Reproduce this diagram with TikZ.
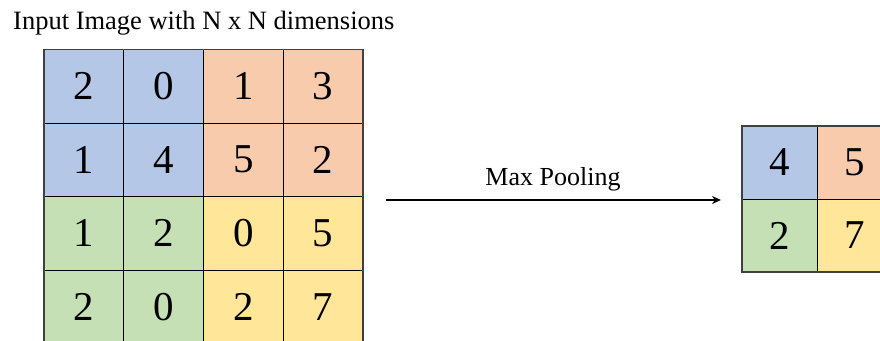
\documentclass[tikz,border=0pt]{standalone}
\usepackage{fontspec}
\setmainfont{Liberation Serif}
\usetikzlibrary{arrows.meta,fit}
\definecolor{cblue}{HTML}{B4C7E7}
\definecolor{corange}{HTML}{F8CBAD}
\definecolor{cgreen}{HTML}{C5E0B4}
\definecolor{cyellow}{HTML}{FFE699}
\definecolor{frame}{HTML}{404040}
\begin{document}
\begin{tikzpicture}[x=1pt,y=-1pt,
  cellL/.style={draw=black, line width=0.8pt, minimum width=79.75pt, minimum height=73.5pt,
    inner sep=0pt, outer sep=0pt, font=\fontsize{41}{41}\selectfont},
  cellR/.style={draw=black, line width=0.8pt, minimum width=75pt, minimum height=73pt,
    inner sep=0pt, outer sep=0pt, font=\fontsize{41}{41}\selectfont},
  border/.style={draw=frame, line width=1.6pt, inner sep=0pt},
  label/.style={font=\fontsize{26}{30}\selectfont, inner sep=0pt},
  arr/.style={line width=1.6pt, -{Stealth[length=9pt,width=8pt]}}]
\clip (0,0) rectangle (880,340);
\fill[white] (0,0) rectangle (880,340);

% title
\node[label, font=\fontsize{26.5}{30}\selectfont, anchor=base west] (title) at (13,29) {Input Image with N x N dimensions};

% input grid, 4 x 4
\foreach \r/\c/\v/\col in {
  1/1/2/cblue, 1/2/0/cblue, 1/3/1/corange, 1/4/3/corange,
  2/1/1/cblue, 2/2/4/cblue, 2/3/5/corange, 2/4/2/corange,
  3/1/1/cgreen, 3/2/2/cgreen, 3/3/0/cyellow, 3/4/5/cyellow,
  4/1/2/cgreen, 4/2/0/cgreen, 4/3/2/cyellow, 4/4/7/cyellow}
  \node[cellL, fill=\col] (a\r\c) at ({44+79.75*(\c-0.5)},{49.5+73.5*(\r-0.5)}) {\v};
\node[border, fit=(a11)(a44)] (inframe) {};

% pooled grid, 2 x 2
\foreach \r/\c/\v/\col in {1/1/4/cblue, 1/2/5/corange, 2/1/2/cgreen, 2/2/7/cyellow}
  \node[cellR, fill=\col] (b\r\c) at ({742+75*(\c-0.5)},{126+73*(\r-0.5)}) {\v};
\node[border, fit=(b11)(b22)] (outframe) {};

% pooling arrow
\coordinate (arrowstart) at (386,200);
\coordinate (arrowend) at (721,200);
\draw[arr] (arrowstart) -- (arrowend);
\node[label, anchor=base] (pool) at (553,185) {Max Pooling};
\end{tikzpicture}
\end{document}
